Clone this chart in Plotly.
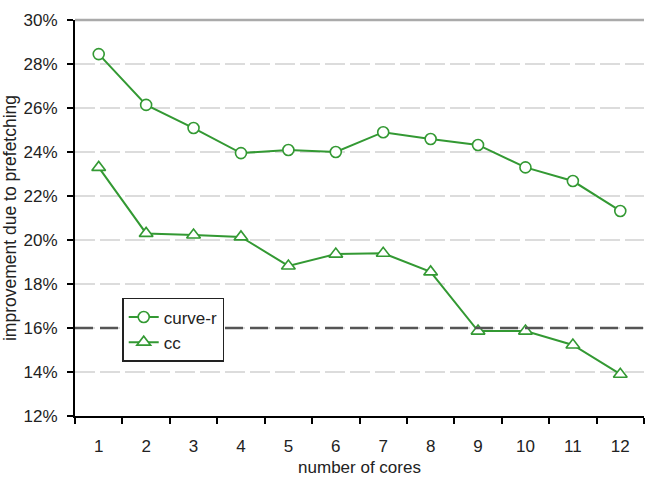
import plotly.graph_objects as go

cores = [str(i) for i in range(1, 13)]
curve_r = [28.45, 26.14, 25.09, 23.95, 24.09, 24.0, 24.9, 24.59, 24.32, 23.3, 22.68, 21.32]
cc = [23.3, 20.3, 20.23, 20.14, 18.82, 19.36, 19.4, 18.55, 15.86, 15.86, 15.23, 13.9]
y_ticks = [12, 14, 16, 18, 20, 22, 24, 26, 28, 30]
ref_level = 16

green = "#339933"
font = "Liberation Sans, Arial, sans-serif"

fig = go.Figure()
fig.add_trace(go.Scatter(
    x=cores, y=curve_r, name="curve-r", mode="lines+markers",
    line=dict(color=green, width=2),
    marker=dict(symbol="circle", size=11, color="white", line=dict(color=green, width=1.6)),
))
fig.add_trace(go.Scatter(
    x=cores, y=cc, name="cc", mode="lines+markers",
    line=dict(color=green, width=2),
    marker=dict(symbol="triangle-up", size=12, color="white", line=dict(color=green, width=1.6)),
))

# reference line at 16%
fig.add_shape(type="line", xref="paper", x0=0, x1=1, yref="y", y0=ref_level, y1=ref_level,
              line=dict(color="#555555", width=2.5, dash="18px,7px"), layer="above")
# top border
fig.add_shape(type="line", xref="paper", x0=0, x1=1, yref="paper", y0=1, y1=1,
              line=dict(color="#aaaaaa", width=2.5))

fig.update_layout(
    width=645, height=477,
    margin=dict(l=75, r=1, t=20, b=61, autoexpand=False),
    paper_bgcolor="white", plot_bgcolor="white",
    font=dict(family=font, size=17, color="#222222"),
    showlegend=True,
    legend=dict(x=0.083, y=0.298, xanchor="left", yanchor="top",
                bordercolor="#222222", borderwidth=1.5, bgcolor="white",
                font=dict(size=17), tracegroupgap=0, itemwidth=30),
    xaxis=dict(
        type="category", range=[-0.5, len(cores) - 0.5],
        tickson="boundaries", ticks="outside", ticklen=6,
        tickcolor="black", tickwidth=1.5, showline=True, linecolor="black", linewidth=2,
        showgrid=False, zeroline=False, tickfont=dict(size=17), ticklabelstandoff=14,
        title=dict(text="number of cores", font=dict(size=17), standoff=9),
    ),
    yaxis=dict(
        range=[12, 30], tickvals=y_ticks, ticktext=[f"{v}%" for v in y_ticks],
        ticks="outside", ticklen=6, tickcolor="black", tickwidth=1.5,
        showline=True, linecolor="black", linewidth=2,
        showgrid=True, gridcolor="#dcdcdc", griddash="20px,5px", gridwidth=2,
        zeroline=False, tickfont=dict(size=17), ticklabelstandoff=6,
        title=dict(text="improvement due to prefetching", font=dict(size=17.5), standoff=4),
    ),
)

fig.write_html("out.html")
